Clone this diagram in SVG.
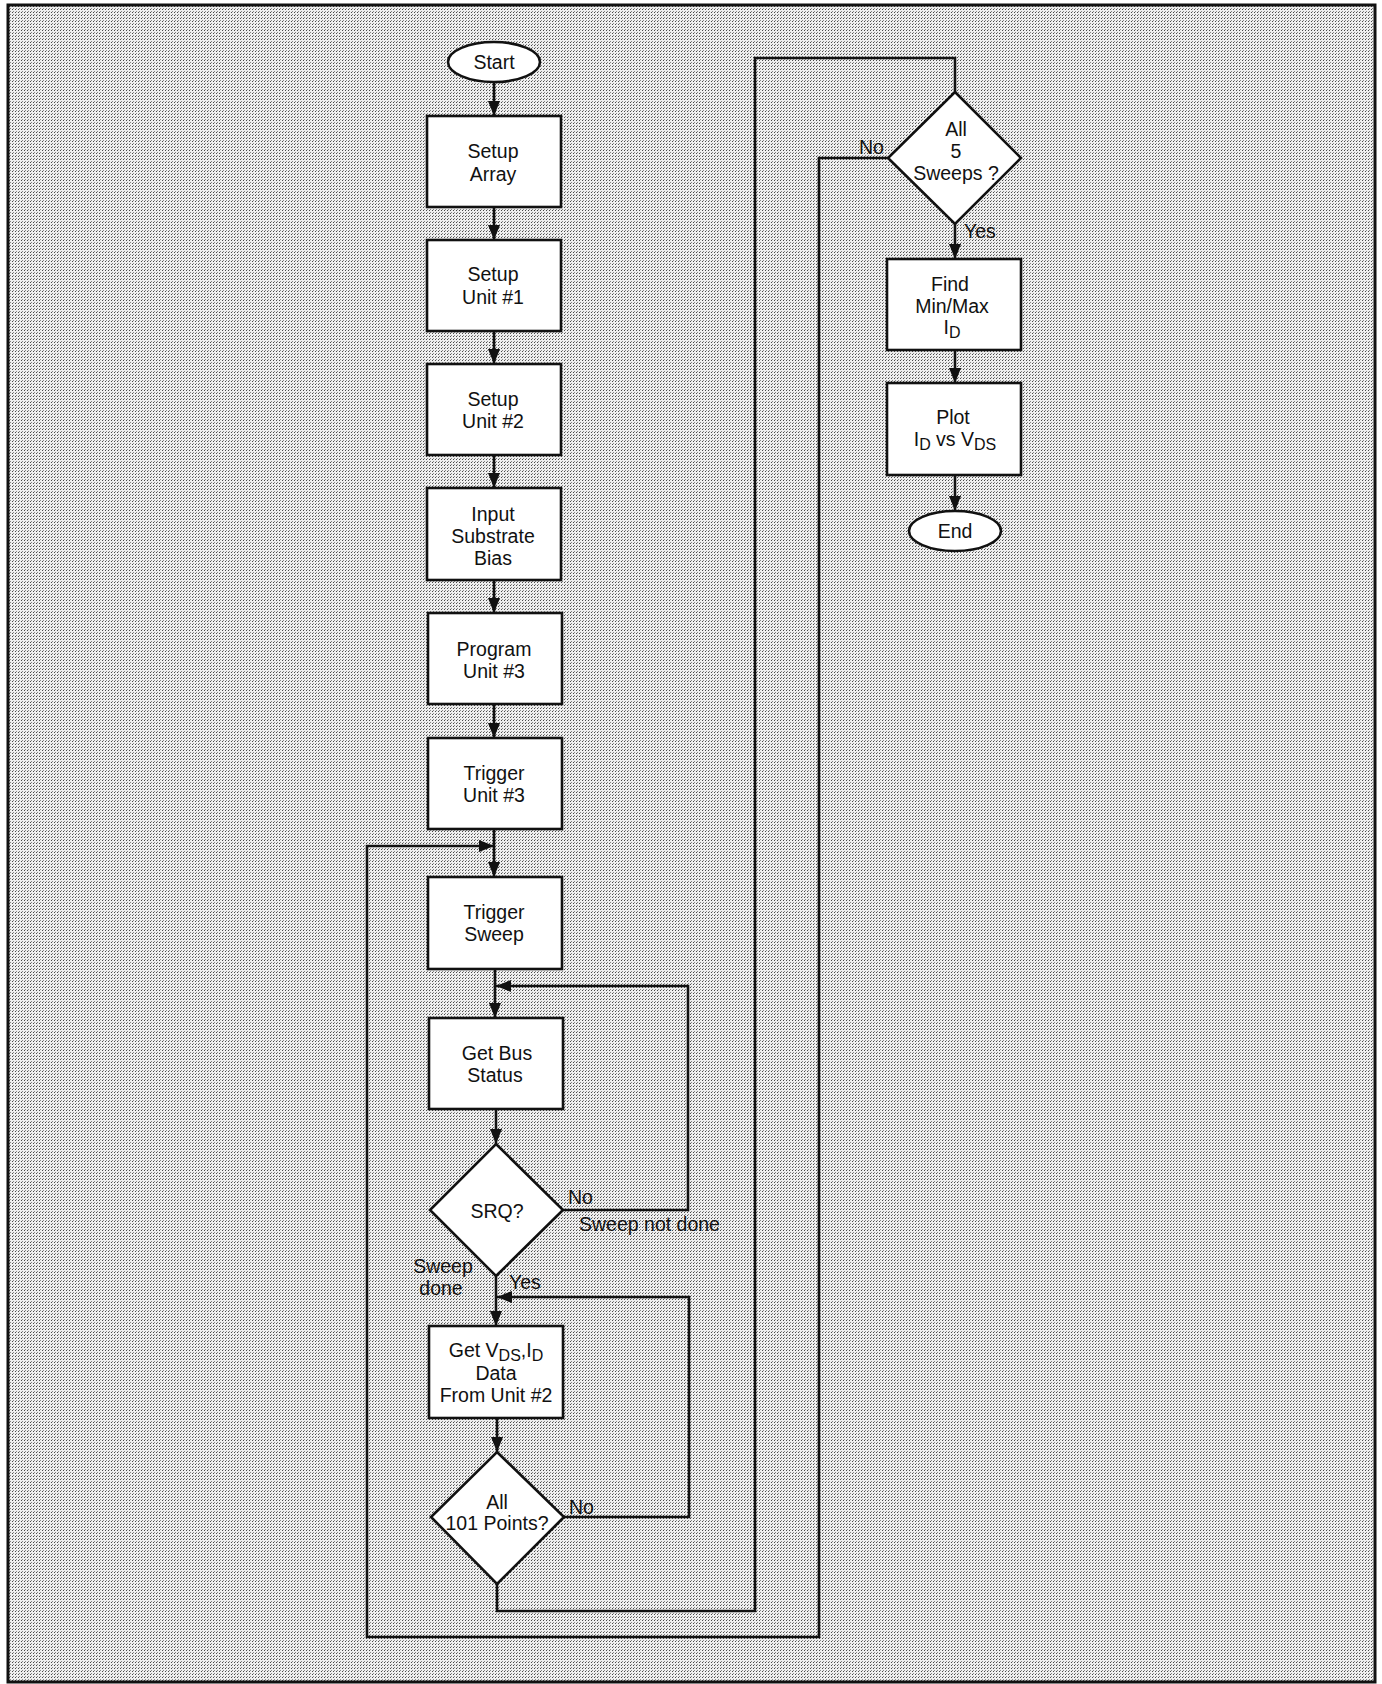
<svg xmlns="http://www.w3.org/2000/svg" width="1382" height="1684" viewBox="0 0 1382 1684">
<defs>
<pattern id="dots" width="3" height="3" patternUnits="userSpaceOnUse">
<rect width="3" height="3" fill="#efefef"/>
<rect x="0" y="0" width="1" height="1" fill="#4a4a4a"/>
<rect x="1" y="2" width="1" height="1" fill="#888"/>
</pattern>
<marker id="arr" viewBox="0 0 15 12" refX="15" refY="6" markerWidth="15" markerHeight="12" markerUnits="userSpaceOnUse" orient="auto">
<path d="M0,0 L15,6 L0,12 z" fill="#111"/>
</marker>
<style>
.n{fill:#fff;stroke:#111;stroke-width:2.6}
.t{font-family:"Liberation Sans",Arial,Helvetica,sans-serif;font-size:19.5px;fill:#111;text-anchor:middle}
.l{font-family:"Liberation Sans",Arial,Helvetica,sans-serif;font-size:19.5px;fill:#111}
.c{fill:none;stroke:#111;stroke-width:2.6}
.s{font-size:16px}
</style>
</defs>
<rect x="0" y="0" width="1382" height="1684" fill="#fff"/>
<rect x="8" y="5" width="1367" height="1677" fill="url(#dots)" stroke="#111" stroke-width="3"/>

<g id="connectors">
<path class="c" d="M494,82 V116" marker-end="url(#arr)"/>
<path class="c" d="M494,207 V240" marker-end="url(#arr)"/>
<path class="c" d="M494,331 V364" marker-end="url(#arr)"/>
<path class="c" d="M494,455 V488" marker-end="url(#arr)"/>
<path class="c" d="M494,580 V613" marker-end="url(#arr)"/>
<path class="c" d="M494,704 V738" marker-end="url(#arr)"/>
<path class="c" d="M494,829 V877" marker-end="url(#arr)"/>
<path class="c" d="M495,969 V1018" marker-end="url(#arr)"/>
<path class="c" d="M496,1109 V1144" marker-end="url(#arr)"/>
<path class="c" d="M496,1276 V1326" marker-end="url(#arr)"/>
<path class="c" d="M497,1418 V1452" marker-end="url(#arr)"/>
<path class="c" d="M563,1210 H688 V986 H496" marker-end="url(#arr)"/>
<path class="c" d="M564,1517 H689 V1297 H497" marker-end="url(#arr)"/>
<path class="c" d="M497,1584 V1611 H755 V58 H955 V92"/>
<path class="c" d="M888,158 H819 V1637 H367 V846 H494" marker-end="url(#arr)"/>
<path class="c" d="M955,224 V259" marker-end="url(#arr)"/>
<path class="c" d="M955,350 V383" marker-end="url(#arr)"/>
<path class="c" d="M955,475 V511" marker-end="url(#arr)"/>
</g>

<g id="start">
<ellipse class="n" cx="494" cy="62" rx="46" ry="20"/>
<text class="t" x="494" y="69">Start</text>
</g>
<g id="setup-array">
<rect class="n" x="427" y="116" width="134" height="91"/>
<text class="t" x="493" y="158">Setup</text>
<text class="t" x="493" y="181">Array</text>
</g>
<g id="setup-unit1">
<rect class="n" x="427" y="240" width="134" height="91"/>
<text class="t" x="493" y="281">Setup</text>
<text class="t" x="493" y="304">Unit #1</text>
</g>
<g id="setup-unit2">
<rect class="n" x="427" y="364" width="134" height="91"/>
<text class="t" x="493" y="406">Setup</text>
<text class="t" x="493" y="428">Unit #2</text>
</g>
<g id="input-bias">
<rect class="n" x="427" y="488" width="134" height="92"/>
<text class="t" x="493" y="521">Input</text>
<text class="t" x="493" y="543">Substrate</text>
<text class="t" x="493" y="565">Bias</text>
</g>
<g id="program-unit3">
<rect class="n" x="428" y="613" width="134" height="91"/>
<text class="t" x="494" y="656">Program</text>
<text class="t" x="494" y="678">Unit #3</text>
</g>
<g id="trigger-unit3">
<rect class="n" x="428" y="738" width="134" height="91"/>
<text class="t" x="494" y="780">Trigger</text>
<text class="t" x="494" y="802">Unit #3</text>
</g>
<g id="trigger-sweep">
<rect class="n" x="428" y="877" width="134" height="92"/>
<text class="t" x="494" y="919">Trigger</text>
<text class="t" x="494" y="941">Sweep</text>
</g>
<g id="get-bus-status">
<rect class="n" x="429" y="1018" width="134" height="91"/>
<text class="t" x="497" y="1060">Get Bus</text>
<text class="t" x="495" y="1082">Status</text>
</g>
<g id="srq">
<polygon class="n" points="496,1144 563,1210 496,1276 430,1210"/>
<text class="t" x="497" y="1218">SRQ?</text>
</g>
<g id="get-data">
<rect class="n" x="429" y="1326" width="134" height="92"/>
<text class="t" x="496" y="1357">Get V<tspan class="s" dy="4">DS</tspan><tspan dy="-4">,I</tspan><tspan class="s" dy="4">D</tspan></text>
<text class="t" x="496" y="1380">Data</text>
<text class="t" x="496" y="1402">From Unit #2</text>
</g>
<g id="all-101">
<polygon class="n" points="497,1452 564,1517 497,1584 431,1517"/>
<text class="t" x="497" y="1509">All</text>
<text class="t" x="497" y="1530">101 Points?</text>
</g>
<g id="all-5-sweeps">
<polygon class="n" points="955,92 1021,158 955,224 888,158"/>
<text class="t" x="956" y="136">All</text>
<text class="t" x="956" y="158">5</text>
<text class="t" x="956" y="180">Sweeps ?</text>
</g>
<g id="find-minmax">
<rect class="n" x="887" y="259" width="134" height="91"/>
<text class="t" x="950" y="291">Find</text>
<text class="t" x="952" y="313">Min/Max</text>
<text class="t" x="952" y="334">I<tspan class="s" dy="4">D</tspan></text>
</g>
<g id="plot">
<rect class="n" x="887" y="383" width="134" height="92"/>
<text class="t" x="953" y="424">Plot</text>
<text class="t" x="955" y="446">I<tspan class="s" dy="4">D</tspan><tspan dy="-4"> vs V</tspan><tspan class="s" dy="4">DS</tspan></text>
</g>
<g id="end">
<ellipse class="n" cx="955" cy="531" rx="46" ry="20"/>
<text class="t" x="955" y="538">End</text>
</g>

<g id="labels">
<text class="l" x="568" y="1204">No</text>
<text class="l" x="579" y="1231">Sweep not done</text>
<text class="t" x="443" y="1273">Sweep</text>
<text class="t" x="441" y="1295">done</text>
<text class="l" x="509" y="1289">Yes</text>
<text class="l" x="569" y="1514">No</text>
<text class="l" x="859" y="154">No</text>
<text class="l" x="964" y="238">Yes</text>
</g>
</svg>
